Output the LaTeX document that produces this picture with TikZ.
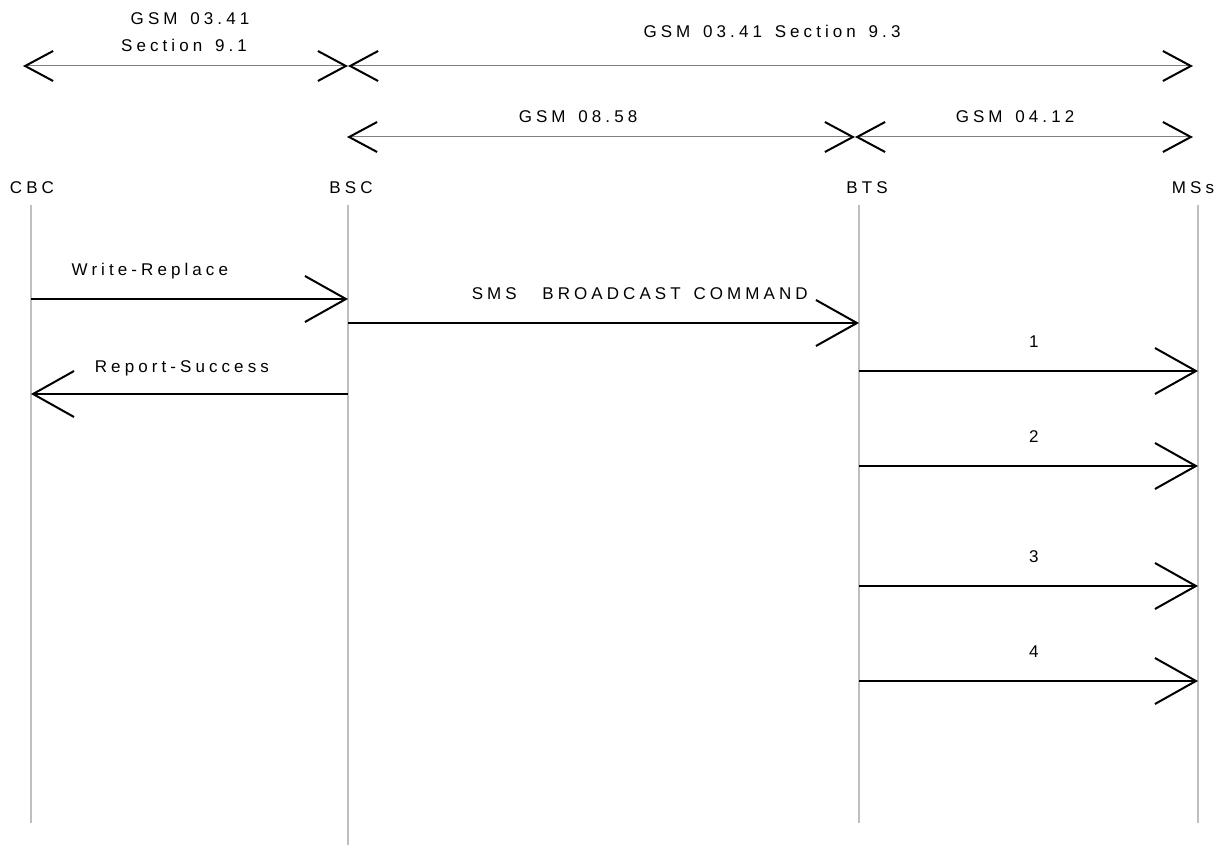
\documentclass[tikz,border=0pt]{standalone}
\usepackage{fontspec}
\newfontfamily\gsmfont{Liberation Sans}[LetterSpace=24,WordSpace=1.45]
\usetikzlibrary{arrows.meta}

\begin{document}
\begin{tikzpicture}[x=1pt,y=-1pt,
  lbl/.style={font=\gsmfont\fontsize{17}{20}\selectfont, anchor=base, inner sep=0pt},
  lifeline/.style={line width=2pt, draw=black!25},
  msg/.style={line width=2pt, -{Straight Barb[length=41pt,width=46pt]}},
  specspan/.style={line width=1pt, draw=black!50,
    {Straight Barb[length=28pt,width=30pt,line width=2pt,color=black]}-{Straight Barb[length=28pt,width=30pt,line width=2pt,color=black]}}]
\useasboundingbox (0,0) rectangle (1221,845);

% Entidades
\node[lbl] (cbc) at (32,194) {CBC};
\node[lbl] (bsc) at (351,194) {BSC};
\node[lbl] (bts) at (867,194) {BTS};
\node[lbl] (mss) at (1193,194) {MSs};

% Lineas de vida
\coordinate (cbct) at (31,205);   \coordinate (cbcb) at (31,823);
\coordinate (bsct) at (348,205);  \coordinate (bscb) at (348,845);
\coordinate (btst) at (859,205);  \coordinate (btsb) at (859,823);
\coordinate (msst) at (1198,205); \coordinate (mssb) at (1198,823);
\draw[lifeline] (cbct) -- (cbcb);
\draw[lifeline] (bsct) -- (bscb);
\draw[lifeline] (btst) -- (btsb);
\draw[lifeline] (msst) -- (mssb);

% Especificaciones (arriba)
\coordinate (s1l) at (23,66);  \coordinate (s1m) at (348,66);  \coordinate (s1r) at (1193,66);
\coordinate (s2l) at (347,137); \coordinate (s2m) at (855,137); \coordinate (s2r) at (1193,137);
\draw[specspan] (s1l) -- (s1m);
\draw[specspan] (s1m) -- (s1r);
\draw[specspan] (s2l) -- (s2m);
\draw[specspan] (s2m) -- (s2r);
\node[lbl] (gsm0341) at (190,25) {GSM 03.41};
\node[lbl] (sec91) at (184,52) {Section 9.1};
\node[lbl] (sec93) at (772,38) {GSM 03.41 Section 9.3};
\node[lbl] (gsm0858) at (578,123) {GSM 08.58};
\node[lbl] (gsm0412) at (1015,123) {GSM 04.12};

% Mensajes
\coordinate (wr) at (0,299);
\coordinate (sms) at (0,323);
\coordinate (rs) at (0,394);
\draw[msg] (cbct |- wr) -- (bsct |- wr) node[lbl, pos=0.375, yshift=23pt] {Write-Replace};
\draw[msg] (bsct |- sms) -- (btst |- sms) node[lbl, pos=0.571, yshift=24pt] {SMS \ BROADCAST COMMAND};
\draw[msg] (bsct |- rs) -- (cbct |- rs) node[lbl, pos=0.524, yshift=22pt] {Report-Success};

% Difusion a los moviles
\foreach \n/\yy in {1/371,2/466,3/586,4/681}{
  \coordinate (m\n) at (0,\yy);
  \draw[msg] (btst |- m\n) -- (msst |- m\n) node[lbl, pos=0.516, yshift=24pt] {\n};
}

\end{tikzpicture}
\end{document}
